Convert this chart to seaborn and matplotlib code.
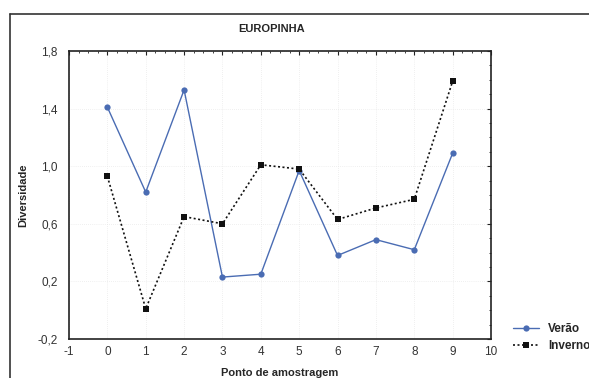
import matplotlib
matplotlib.use("Agg")
import matplotlib.pyplot as plt
import seaborn as sns
import pandas as pd
from matplotlib.ticker import MultipleLocator, FixedLocator, FuncFormatter
from matplotlib.lines import Line2D

pontos = [0, 1, 2, 3, 4, 5, 6, 7, 8, 9]
verao = [1.41, 0.82, 1.53, 0.23, 0.25, 0.97, 0.38, 0.49, 0.42, 1.09]
inverno = [0.93, 0.01, 0.65, 0.60, 1.01, 0.98, 0.63, 0.71, 0.77, 1.59]
yticks = [-0.2, 0.2, 0.6, 1.0, 1.4, 1.8]
title = "EUROPINHA"
xlabel = "Ponto de amostragem"
ylabel = "Diversidade"
series_names = ["Verão", "Inverno"]

sns.set_theme(style="white")
plt.rcParams['font.family'] = ['Liberation Sans', 'DejaVu Sans']
plt.rcParams['axes.unicode_minus'] = False

df_v = pd.DataFrame({"x": pontos, "y": verao})
df_i = pd.DataFrame({"x": pontos, "y": inverno})

fig = plt.figure(figsize=(5.89, 3.78), dpi=100)
ax = fig.add_axes([69/589, 1-339/378, (491-69)/589, (339-51)/378])

blue = "#4a6cb3"
sns.lineplot(data=df_v, x="x", y="y", ax=ax, color=blue, lw=1.0,
             marker="o", markersize=4.5, markeredgewidth=0, label=series_names[0])
sns.lineplot(data=df_i, x="x", y="y", ax=ax, color="#111111", lw=1.2,
             linestyle=(0, (1.2, 1.5)), marker="s", markersize=5,
             markeredgewidth=0, label=series_names[1])

ax.set_xlim(-1, 10)
ax.set_ylim(-0.2, 1.8)
ax.xaxis.set_major_locator(MultipleLocator(1))
ax.xaxis.set_minor_locator(MultipleLocator(0.25))
ax.yaxis.set_major_locator(FixedLocator(yticks))
ax.yaxis.set_minor_locator(MultipleLocator(0.1))
ax.yaxis.set_major_formatter(FuncFormatter(lambda v, p: f"{v:.1f}".replace(".", ",")))
ax.tick_params(which="both", direction="in", top=True, right=True, colors="#222222",
               labelcolor="#333333", labelsize=8.5)
ax.tick_params(which="major", length=3, width=0.8, pad=5)
ax.tick_params(axis="y", which="major", pad=8)
ax.tick_params(which="minor", length=1.5, width=0.6)
ax.grid(True, which="major", color="#e2e2e2", linestyle=(0, (1, 2)), lw=0.5)
for s in ax.spines.values():
    s.set_color("#222222")
    s.set_linewidth(1.2)

ax.set_xlabel(xlabel, fontsize=8, fontweight="bold", labelpad=7)
ax.set_ylabel(ylabel, fontsize=8, fontweight="bold", labelpad=7)
ax.set_title(title, fontsize=8, fontweight="bold", pad=14, x=0.48)

leg = ax.legend(loc="upper left", bbox_to_anchor=(508/589, 1-318/378),
                bbox_transform=fig.transFigure, frameon=False,
                prop={"weight": "bold", "size": 8.5}, handlelength=2.2,
                handletextpad=0.8, labelspacing=0.45, borderaxespad=0)

fig.add_artist(Line2D([10/589, 10/589], [0, 1-14/378], transform=fig.transFigure,
                      color="#333333", lw=1.2))
fig.add_artist(Line2D([10/589, 1], [1-14/378, 1-14/378], transform=fig.transFigure,
                      color="#333333", lw=1.2))

fig.savefig("out.png", dpi=100)
